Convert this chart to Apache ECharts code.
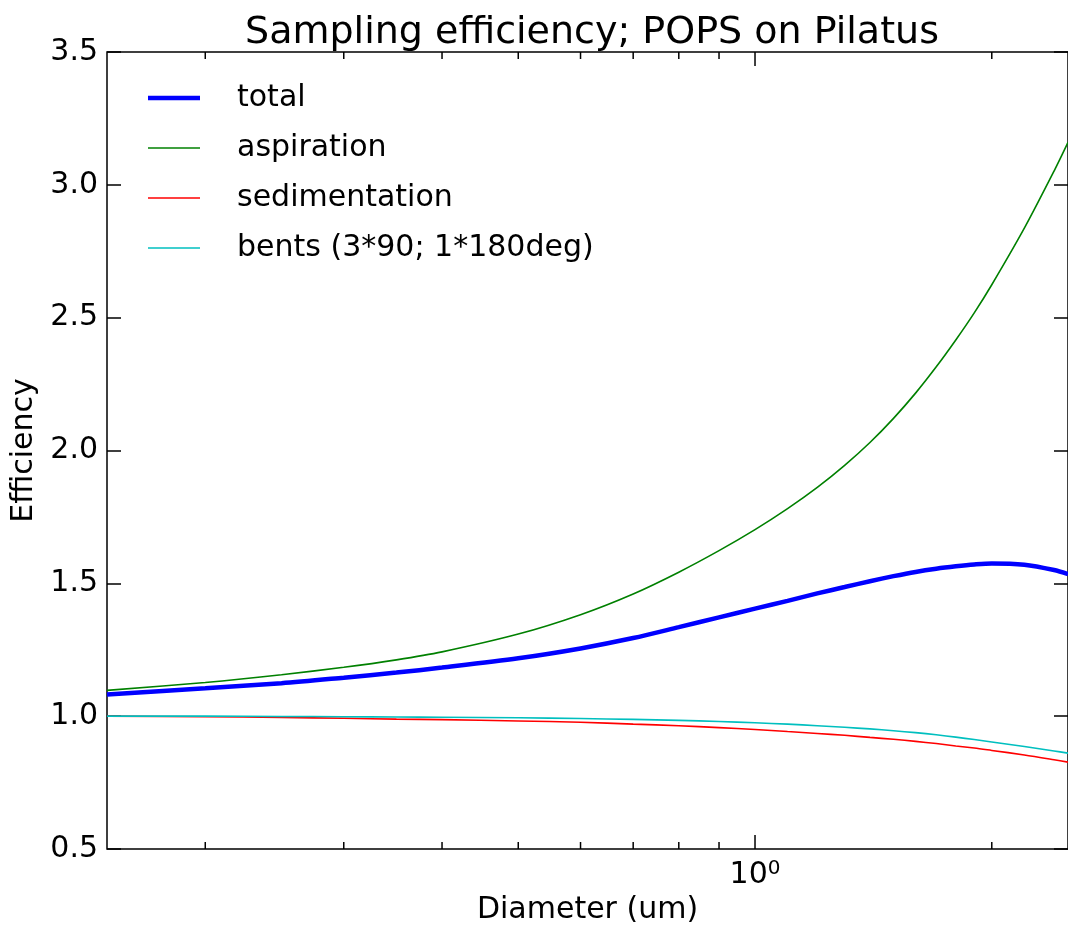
<!DOCTYPE html>
<html>
<head>
<meta charset="utf-8">
<script src="https://cdn.jsdelivr.net/npm/echarts@6/dist/echarts.min.js"></script>
<style>html,body{margin:0;padding:0;background:#fff}#c{width:1068px;height:930px}</style>
</head>
<body>
<div id="c"></div>
<script>
// Diameter (um)
const diameters =     [0.15,  0.2,   0.25,  0.3,   0.35,  0.4,   0.5,   0.6,   0.7,   0.8,   0.9,   1.0,   1.1,   1.2,   1.3,   1.4,   1.5,   1.6,   1.7,   1.8,   1.9,   2.0,   2.2,   2.4,   2.5];
const total =         [1.082, 1.105, 1.124, 1.145, 1.164, 1.183, 1.218, 1.255, 1.294, 1.335, 1.372, 1.405, 1.434, 1.462, 1.486, 1.508, 1.527, 1.543, 1.555, 1.564, 1.571, 1.575, 1.570, 1.550, 1.535];
const aspiration =    [1.097, 1.127, 1.156, 1.184, 1.212, 1.242, 1.309, 1.382, 1.460, 1.542, 1.623, 1.702, 1.781, 1.861, 1.944, 2.030, 2.121, 2.216, 2.315, 2.416, 2.518, 2.624, 2.837, 3.052, 3.160];
const sedimentation = [1.000, 0.998, 0.995, 0.992, 0.989, 0.987, 0.982, 0.977, 0.970, 0.964, 0.957, 0.950, 0.942, 0.935, 0.928, 0.920, 0.913, 0.905, 0.897, 0.888, 0.880, 0.871, 0.854, 0.836, 0.827];
const bents =         [1.000, 1.000, 0.999, 0.998, 0.997, 0.996, 0.994, 0.991, 0.988, 0.984, 0.980, 0.975, 0.970, 0.964, 0.958, 0.952, 0.945, 0.938, 0.930, 0.921, 0.912, 0.903, 0.886, 0.869, 0.861];
const seriesNames = ['total', 'aspiration', 'sedimentation', 'bents (3*90; 1*180deg)'];
const seriesColors = ['#0000ff', '#008000', '#ff0000', '#00bfbf'];
const seriesWidths = [4.5, 1.6, 1.6, 1.6];
const yTickLabels = ['0.5', '1.0', '1.5', '2.0', '2.5', '3.0', '3.5'];
const xMajorTicks = [1];
const xMinorTicks = [0.2, 0.3, 0.4, 0.5, 0.6, 0.7, 0.8, 0.9, 2];

const zip = (xs, ys) => xs.map((x, i) => [x, ys[i]]);
const tickData = xMinorTicks.map(v => [v, 0.5, 0]).concat(xMajorTicks.map(v => [v, 0.5, 1]));
const seriesValues = [total, aspiration, sedimentation, bents];

const chart = echarts.init(document.getElementById('c'));
const FONT = 'DejaVu Sans';
chart.setOption({
  animation: false,
  backgroundColor: '#fff',
  textStyle: { fontFamily: FONT, color: '#000' },
  title: {
    text: 'Sampling efficiency; POPS on Pilatus',
    left: 592, top: 14, textAlign: 'center', padding: 0,
    textStyle: { fontFamily: FONT, fontSize: 38, fontWeight: 'normal', color: '#000' }
  },
  legend: {
    data: seriesNames.map((n, i) => ({ name: n, icon: 'path://M0,0H52V' + seriesWidths[i] + 'H0Z' })),
    orient: 'vertical', left: 148, top: 83, padding: 0,
    itemWidth: 52, itemHeight: 20, itemGap: 20,
    textStyle: { fontFamily: FONT, fontSize: 30, color: '#000', padding: [0, 0, 0, 32] }
  },
  grid: { left: 107, top: 52, width: 970, height: 800, show: true, borderColor: '#000', borderWidth: 1.5, backgroundColor: 'transparent' },
  xAxis: {
    type: 'log', logBase: 10, min: 0.15, max: 2.5,
    name: 'Diameter (um)', nameLocation: 'middle', nameGap: 46,
    nameTextStyle: { fontFamily: FONT, fontSize: 30, color: '#000' },
    axisLine: { show: false }, axisTick: { show: false }, splitLine: { show: false }, minorTick: { show: false },
    axisLabel: {
      margin: 10, showMinLabel: false, showMaxLabel: false,
      formatter: v => (Math.abs(v - 1) < 1e-6 ? '{b|10}{s|0}' : ''),
      rich: {
        b: { fontFamily: FONT, fontSize: 30, color: '#000' },
        s: { fontFamily: FONT, fontSize: 20, color: '#000', verticalAlign: 'top', padding: [0, 0, 12, 0] }
      }
    }
  },
  yAxis: [{
    type: 'value', min: 0.5, max: 3.5, interval: 0.5, position: 'left',
    name: 'Efficiency', nameLocation: 'middle', nameGap: 54, nameRotate: 90,
    nameTextStyle: { fontFamily: FONT, fontSize: 30, color: '#000' },
    axisLine: { show: false }, splitLine: { show: false },
    axisTick: { show: true, inside: true, length: 14, lineStyle: { color: '#000', width: 1.5 } },
    axisLabel: { margin: 9, fontFamily: FONT, fontSize: 30, color: '#000', formatter: (v) => yTickLabels[Math.round((v - 0.5) / 0.5)] }
  }, {
    type: 'value', min: 0.5, max: 3.5, interval: 0.5, position: 'right',
    axisLine: { show: false }, splitLine: { show: false },
    axisTick: { show: true, inside: true, length: 14, lineStyle: { color: '#000', width: 1.5 } },
    axisLabel: { show: false }
  }],
  series: seriesNames.map((n, i) => ({
    name: n, type: 'line', data: zip(diameters, seriesValues[i]), smooth: 0.3, symbol: 'none',
    lineStyle: { color: seriesColors[i], width: seriesWidths[i] }, itemStyle: { color: seriesColors[i] }
  })).concat([{
    name: 'xticks', type: 'custom', data: tickData, silent: true, z: 5,
    renderItem: (params, api) => {
      const v = api.value(0);
      const len = api.value(2) ? 14 : 7;
      const b = api.coord([v, 0.5]);
      const t = api.coord([v, 3.5]);
      const st = { stroke: '#000', lineWidth: 1.5 };
      return { type: 'group', children: [
        { type: 'line', shape: { x1: b[0], y1: b[1], x2: b[0], y2: b[1] - len }, style: st },
        { type: 'line', shape: { x1: t[0], y1: t[1], x2: t[0], y2: t[1] + len }, style: st }
      ] };
    }
  }])
});
</script>
</body>
</html>
